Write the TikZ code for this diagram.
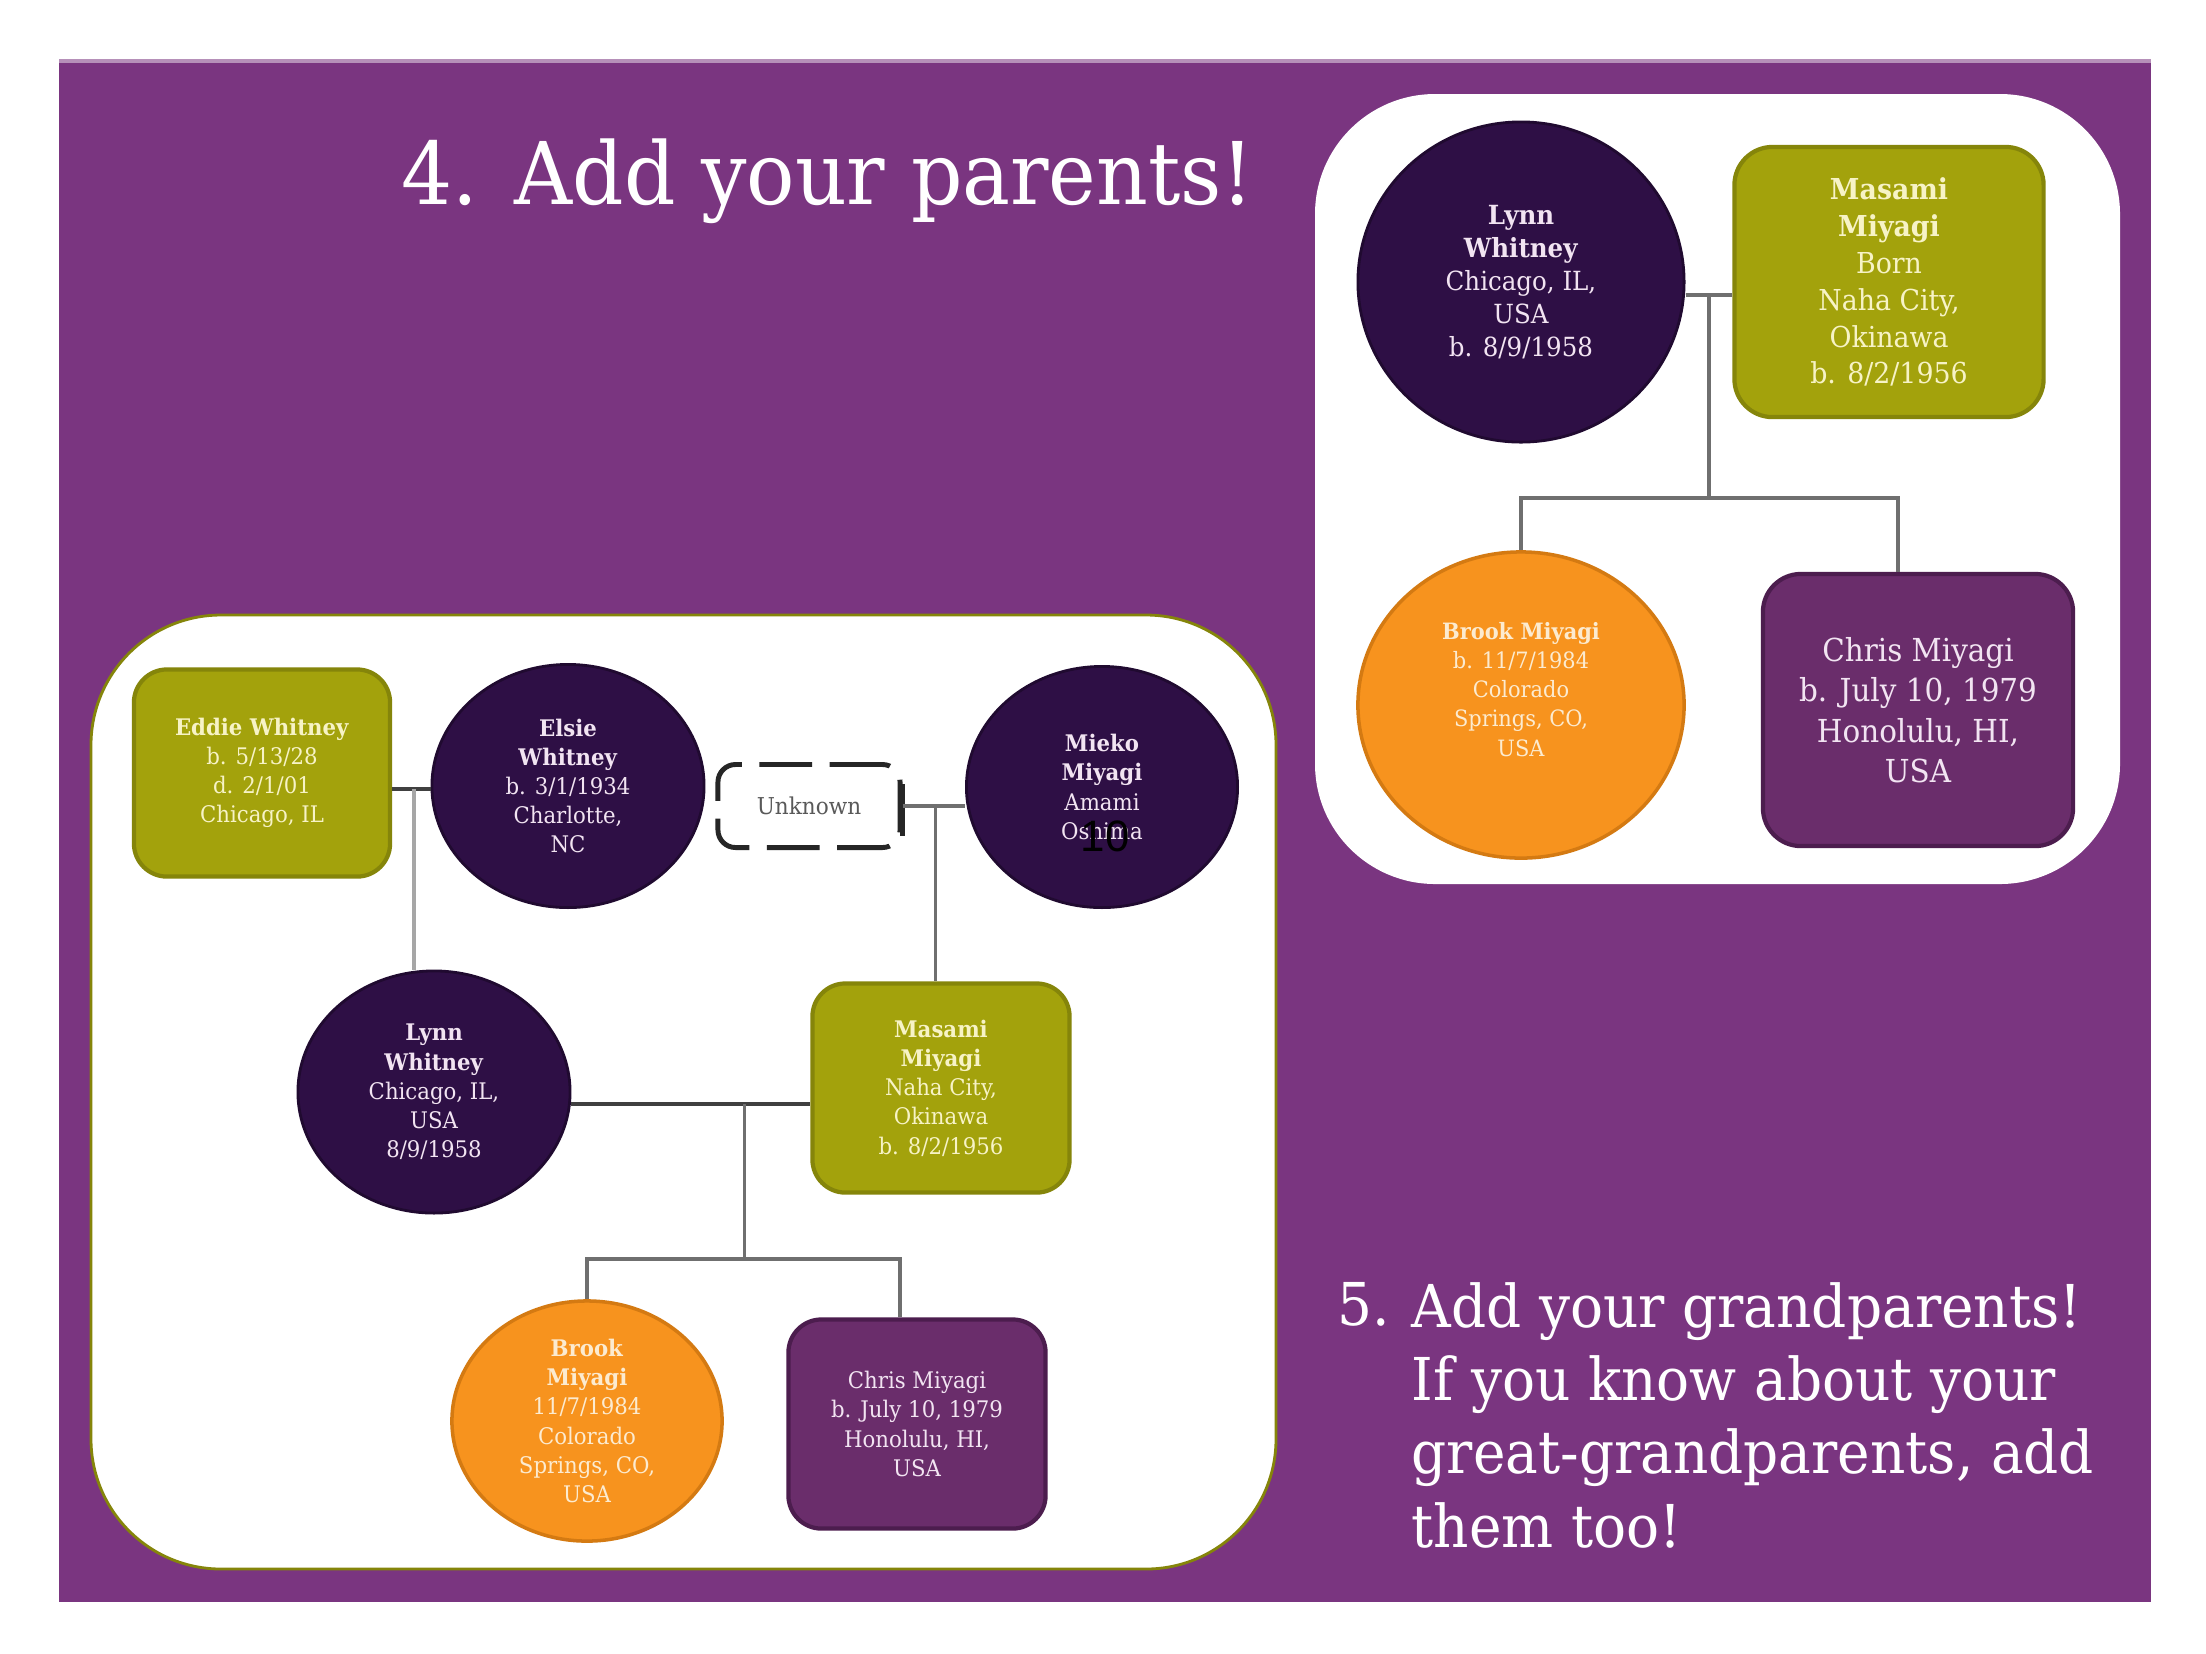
\documentclass[tikz,border=0pt]{standalone}
\usepackage{fontspec}
\setmainfont{DejaVu Serif}[FakeStretch=0.93]
\newfontfamily\numfont{Liberation Sans}
\usetikzlibrary{shapes.geometric,calc}
\definecolor{bgpurple}{HTML}{7A3580}
\definecolor{darkplum}{HTML}{2E0F45}
\definecolor{oliveF}{HTML}{A3A20C}
\definecolor{oliveD}{HTML}{85850A}
\definecolor{orangeF}{HTML}{F7931E}
\definecolor{orangeD}{HTML}{D47A12}
\definecolor{plumF}{HTML}{6A2D6B}
\definecolor{plumD}{HTML}{4C1D4E}
\definecolor{txtlav}{HTML}{F2E4F2}
\definecolor{txtcream}{HTML}{F7F3C6}
\definecolor{txtorange}{HTML}{FCEBD0}
\definecolor{linegray}{HTML}{6F6F6F}
\begin{document}
\begin{tikzpicture}[x=0.01cm,y=-0.01cm,
  conn/.style={draw=linegray, line width=1pt},
  person/.style={align=center, inner sep=0pt},
  circ/.style={person, ellipse, fill=darkplum, draw=darkplum!70!black, line width=0.8pt, text=txtlav},
  orangecirc/.style={person, ellipse, fill=orangeF, draw=orangeD, line width=1pt, text=txtorange},
  olivebox/.style={person, rectangle, rounded corners=0.33cm, fill=oliveF, draw=oliveD, line width=1.2pt, text=txtcream},
  plumbox/.style={person, rectangle, rounded corners=0.33cm, fill=plumF, draw=plumD, line width=1.2pt, text=txtlav},
  unknownbox/.style={rectangle, rounded corners=5pt, fill=white, draw=black!85, line width=1.4pt, dash pattern=on 15pt off 5pt, text=gray!70!black, font=\fontsize{6.6}{8}\selectfont},
  smalltext/.style={font=\fontsize{6.5}{8.3}\selectfont},
  bigtext/.style={text=white, inner sep=0pt}
]
\useasboundingbox (0,0) rectangle (2206,1653);
\fill[white] (0,0) rectangle (2206,1653);
\fill[bgpurple] (59,59) rectangle (2151,1602);
\fill[bgpurple!55!white] (59,59) rectangle (2151,63);

% panels
\fill[white, rounded corners=1.2cm] (1315,94) rectangle (2120,884);
\draw[fill=white, draw=oliveD, line width=0.8pt, rounded corners=1.3cm] (91,615) rectangle (1276,1569);

% titles
\node[bigtext, anchor=base west, font=\fontsize{24.6}{30}\selectfont] (t4n) at (401,204) {4.};
\node[bigtext, anchor=base west, font=\fontsize{24.6}{30}\selectfont] (t4) at (514,204) {Add your parents!};
\node[bigtext, anchor=north west, font=\fontsize{16.8}{20.8}\selectfont] (t5n) at (1337,1282) {5.};
\node[bigtext, anchor=north west, align=left, font=\fontsize{16.8}{20.8}\selectfont] (t5) at (1411,1282) {Add your grandparents!\\If you know about your\\great-grandparents, add\\them too!};

% top-right tree
\node[circ, minimum width=3.26cm, minimum height=3.2cm, font=\fontsize{7.5}{9.4}\selectfont] (lynnTR) at (1521,282) {\textbf{Lynn}\\\textbf{Whitney}\\Chicago, IL,\\USA\\b. 8/9/1958};
\node[olivebox, minimum width=3.09cm, minimum height=2.7cm, rounded corners=0.38cm, font=\fontsize{8.2}{10.5}\selectfont] (masTR) at (1889,282) {\textbf{Masami}\\\textbf{Miyagi}\\Born\\Naha City,\\Okinawa\\b. 8/2/1956};
\node[orangecirc, minimum width=3.26cm, minimum height=3.06cm, text depth=9pt, font=\fontsize{6.4}{8.3}\selectfont] (brookTR) at (1521,705) {\textbf{Brook Miyagi}\\b. 11/7/1984\\Colorado\\Springs, CO,\\USA};
\node[plumbox, minimum width=3.1cm, minimum height=2.72cm, rounded corners=0.38cm, font=\fontsize{9}{11.5}\selectfont] (chrisTR) at (1918,710) {Chris Miyagi\\b. July 10, 1979\\Honolulu, HI,\\USA};

\draw[conn] (lynnTR.east) ++(0,13) coordinate (a1) -- (a1 -| masTR.west) coordinate (a2);
\coordinate (jTR) at ($(a1)!0.5!(a2)$);
\coordinate (barTR) at ($(jTR)+(0,203)$);
\draw[conn] (jTR) -- (barTR);
\draw[conn] (brookTR.north) |- (barTR) -| ([xshift=-0.2cm]chrisTR.north);

% bottom-left tree
\node[olivebox, smalltext, minimum width=2.56cm, minimum height=2.07cm] (eddie) at (262,773) {\textbf{Eddie Whitney}\\b. 5/13/28\\d. 2/1/01\\Chicago, IL};
\node[circ, smalltext, minimum width=2.72cm, minimum height=2.43cm] (elsie) at (568,786) {\textbf{Elsie}\\\textbf{Whitney}\\b. 3/1/1934\\Charlotte,\\NC};
\node[unknownbox, minimum width=1.82cm, minimum height=0.83cm] (unknown) at (809,806) {Unknown};
\node[circ, smalltext, minimum width=2.71cm, minimum height=2.41cm] (mieko) at (1102,787) {\textbf{Mieko}\\\textbf{Miyagi}\\Amami\\Oshima};
\node[circ, smalltext, minimum width=2.72cm, minimum height=2.42cm] (lynnBL) at (434,1092) {\textbf{Lynn}\\\textbf{Whitney}\\Chicago, IL,\\USA\\8/9/1958};
\node[olivebox, smalltext, minimum width=2.57cm, minimum height=2.09cm] (masBL) at (941,1088) {\textbf{Masami}\\\textbf{Miyagi}\\Naha City,\\Okinawa\\b. 8/2/1956};
\node[orangecirc, smalltext, minimum width=2.7cm, minimum height=2.4cm] (brookBL) at (587,1421) {\textbf{Brook}\\\textbf{Miyagi}\\11/7/1984\\Colorado\\Springs, CO,\\USA};
\node[plumbox, smalltext, minimum width=2.57cm, minimum height=2.09cm] (chrisBL) at (917,1424) {Chris Miyagi\\b. July 10, 1979\\Honolulu, HI,\\USA};
\node[font=\numfont\fontsize{12.5}{15}\selectfont, text=black, inner sep=0pt] (pagenum) at (1105,836) {10};

\draw[conn, draw=black!75] (elsie.west) ++(0,3) coordinate (b1) -- (b1 -| eddie.east) coordinate (b2);
\coordinate (jA) at ($(b2)+(22,0)$);
\draw[conn, draw=gray!70] (jA) -- (jA |- lynnBL.north);

\draw[line width=1.4pt, draw=black!85] ([yshift=-0.22cm]unknown.north east) -- ([yshift=0.14cm]unknown.south east);
\draw[conn] (unknown.east) -- (unknown.east -| mieko.west);
\coordinate (jB) at ($(unknown.east)+(33,0)$);
\draw[conn] (jB) -- (jB |- masBL.north);

\draw[conn, draw=black!75] (lynnBL.east) ++(0,12) coordinate (c1) -- (c1 -| masBL.west);
\coordinate (jC) at ($(c1)+(173,0)$);
\coordinate (barBL) at ($(jC)+(0,155)$);
\draw[conn] (jC) -- (barBL);
\draw[conn] (brookBL.north) |- (barBL) -| ([xshift=-0.17cm]chrisBL.north);
\end{tikzpicture}
\end{document}
